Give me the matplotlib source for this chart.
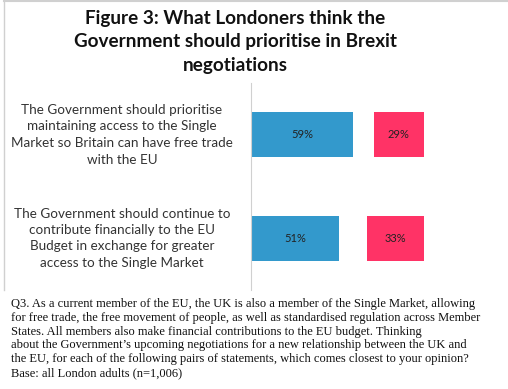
import matplotlib.pyplot as plt
from matplotlib.lines import Line2D

statements = [
    "The Government should prioritise\nmaintaining access to the Single\nMarket so Britain can have free trade\nwith the EU",
    "The Government should continue to\ncontribute financially to the EU\nBudget in exchange for greater\naccess to the Single Market",
]
agree = [59, 51]
neither = [12, 16]
other = [29, 33]

title = "Figure 3: What Londoners think the\nGovernment should prioritise in Brexit\nnegotiations"
footnote = ("Q3. As a current member of the EU, the UK is also a member of the Single Market, allowing\n"
            "for free trade, the free movement of people, as well as standardised regulation across Member\n"
            "States. All members also make financial contributions to the EU budget. Thinking\n"
            "about the Government\u2019s upcoming negotiations for a new relationship between the UK and\n"
            "the EU, for each of the following pairs of statements, which comes closest to your opinion?\n"
            "Base: all London adults (n=1,006)")

W, H = 508, 389
fig = plt.figure(figsize=(W / 100, H / 100), dpi=100)

# axes: x from 251px to 500px, y from 83px to 290px
ax = fig.add_axes([251 / W, 1 - 290 / H, 249 / W, 207 / H])
y = [0, 1]
ax.barh(y, agree, height=0.43, color="#3399CC")
ax.barh(y, neither, left=agree, height=0.43, color="white")
left2 = [a + n for a, n in zip(agree, neither)]
ax.barh(y, other, left=left2, height=0.43, color="#FF3366")

for i in range(len(y)):
    ax.text(agree[i] / 2, y[i], f"{agree[i]}%", ha="center", va="center",
            fontsize=8, color="#222222", family="Lato")
    ax.text(left2[i] + other[i] / 2, y[i], f"{other[i]}%", ha="center", va="center",
            fontsize=8, color="#222222", family="Lato")
    ax.text(-129 / 1.73, y[i], statements[i], ha="center", va="center",
            fontsize=9.7, color="#333333", family="Lato", linespacing=1.45)

ax.set_xlim(0, 249 / 1.73)
ax.set_ylim(1.5, -0.5)
ax.set_xticks([])
ax.set_yticks([])
for s in ["top", "right", "bottom"]:
    ax.spines[s].set_visible(False)
ax.spines["left"].set_color("#d0d0d0")

# frame lines
fig.add_artist(Line2D([4 / W, 4 / W], [1 - 290 / H, 1], color="#d0d0d0", lw=1))
fig.add_artist(Line2D([4 / W, 1], [1 - 1 / H, 1 - 1 / H], color="#d0d0d0", lw=1.5))

fig.text(235 / W, 1 - 42 / H, title, ha="center", va="center", fontsize=13.6,
         fontweight="bold", family="Lato", color="#111111", linespacing=1.45)

fig.text(11 / W, 1 - 298 / H, footnote, ha="left", va="top", fontsize=9,
         family="Liberation Serif", color="#111111", linespacing=1.2)

fig.savefig("out.png", dpi=100)
